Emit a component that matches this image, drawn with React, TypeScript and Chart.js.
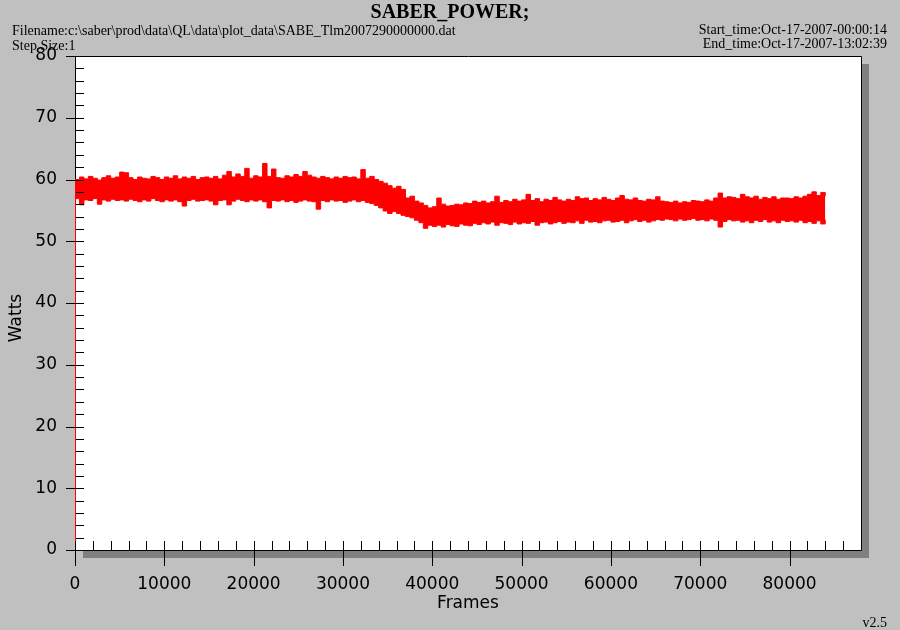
import React, { useEffect, useRef } from "react";
import { Chart, registerables } from "chart.js";

Chart.register(...registerables);

const TITLE = "SABER_POWER;";
const FILENAME = "Filename:c:\\saber\\prod\\data\\QL\\data\\plot_data\\SABE_Tlm2007290000000.dat";
const STEP_SIZE = "Step Size:1";
const START_TIME = "Start_time:Oct-17-2007-00:00:14";
const END_TIME = "End_time:Oct-17-2007-13:02:39";
const VERSION = "v2.5";
const X_TITLE = "Frames";
const Y_TITLE = "Watts";

const X_MIN = 0;
const X_MAX = 88000;
const X_MAJOR = 10000;
const X_MINOR = 2000;
const Y_MIN = 0;
const Y_MAX = 80;
const Y_MAJOR = 10;
const Y_MINOR = 2;

const FRAME_STEP = 500;

// upper envelope of the noisy power trace (W), one value per 500 frames
const upperWatts = [
  60.0, 60.4, 60.1, 60.5, 60.2, 59.9, 60.3, 60.6, 60.2, 60.4, 61.2,
  61.1, 60.3, 60.0, 60.4, 60.2, 60.1, 60.5, 60.3, 60.0, 60.4,
  60.2, 60.6, 60.1, 60.4, 60.2, 60.5, 60.0, 60.3, 60.4, 60.2,
  60.5, 60.1, 60.7, 61.3, 60.4, 60.9, 60.5, 61.8, 60.2, 60.6,
  60.4, 62.6, 60.5, 61.7, 60.3, 60.2, 60.6, 60.4, 60.8, 60.5,
  61.3, 60.7, 60.4, 60.2, 60.5, 60.3, 60.1, 60.4, 60.2, 60.5,
  60.3, 60.4, 60.1, 61.6, 60.2, 60.5, 60.0, 59.7, 59.4, 59.0,
  58.6, 58.9, 58.4, 57.0, 57.3, 56.5, 56.2, 55.8, 55.4, 55.6,
  57.0, 56.0, 55.7, 55.8, 56.0, 55.9, 56.2, 56.1, 56.5, 56.3,
  56.5, 56.2, 56.4, 57.3, 56.3, 56.6, 56.4, 56.8, 56.5, 56.7,
  57.6, 56.6, 56.9, 56.4, 56.8, 56.6, 57.1, 56.7, 56.5, 56.8,
  56.6, 57.2, 56.9, 57.0, 56.6, 56.9, 56.7, 57.1, 56.8, 56.6,
  57.0, 57.4, 56.8, 56.7, 57.0, 56.6, 56.5, 56.8, 56.7, 57.2,
  56.5, 56.4, 56.3, 56.5, 56.2, 56.4, 56.3, 56.6, 56.5, 56.4,
  56.7, 56.5, 57.0, 57.8, 57.0, 57.2, 57.1, 56.9, 57.6, 57.2,
  57.0, 57.3, 56.8, 57.1, 56.9, 57.2, 56.8, 57.0, 57.0, 56.9,
  57.2, 57.0, 57.3, 57.6, 58.0, 57.4, 57.9, 57.3,
];

// lower envelope of the noisy power trace (W)
const lowerWatts = [
  56.9, 55.9, 56.7, 56.6, 56.9, 56.0, 56.7, 56.5, 56.8, 56.6, 56.7,
  56.5, 56.8, 56.6, 56.4, 56.7, 56.5, 56.9, 56.6, 56.4, 56.7,
  56.5, 56.7, 56.4, 55.7, 56.6, 56.8, 56.5, 56.6, 56.7, 56.5,
  55.9, 56.6, 56.7, 55.9, 56.5, 56.8, 56.6, 56.4, 56.7, 56.5,
  56.7, 56.4, 55.4, 56.6, 56.5, 56.7, 56.4, 56.6, 56.3, 56.5,
  56.7, 56.5, 56.4, 55.2, 56.6, 56.4, 56.7, 56.5, 56.6, 56.3,
  56.5, 56.7, 56.4, 56.6, 56.3, 56.1, 55.8, 55.4, 54.9, 54.5,
  54.8, 54.5, 54.2, 54.0, 53.8, 53.4, 53.0, 52.1, 52.6, 52.4,
  52.6, 52.3, 52.7, 52.5, 52.4, 52.8, 52.6, 52.5, 52.9, 52.7,
  53.0, 52.8, 53.1, 52.6, 53.0, 52.9, 52.7, 53.1, 52.8, 53.0,
  52.9, 53.2, 52.6, 53.0, 53.1, 52.8, 53.0, 53.2, 52.9, 53.1,
  53.0, 53.3, 52.9, 53.4, 53.1, 53.2, 53.0, 53.3, 53.4, 53.1,
  53.2, 53.4, 53.0, 53.3, 53.5, 53.2, 53.4, 53.1, 53.3, 53.5,
  53.4, 53.6, 53.5, 53.3, 53.6, 53.4, 53.5, 53.7, 53.4, 53.5,
  53.3, 53.6, 53.4, 52.3, 53.2, 53.5, 53.3, 53.4, 53.1, 53.3,
  53.0, 53.4, 53.2, 53.5, 53.1, 53.3, 53.0, 53.4, 53.2, 53.3,
  53.1, 53.4, 53.0, 53.2, 52.9, 53.3, 52.8, 53.5,
];

// initial jump of the trace from 0 W at frame 0
const startFrames = [0, 0];
const startWatts = [0, 60.0];

// x-axis tick labels
const xTickValues = [0, 10000, 20000, 30000, 40000, 50000, 60000, 70000, 80000];

const frames = upperWatts.map((_, i) => i * FRAME_STEP);

const RED = "#ff0000";
const BG = "#c0c0c0";
const SHADOW = "#808080";
const SANS = "'DejaVu Sans', sans-serif";
const SERIF = "'Liberation Serif', 'Times New Roman', serif";

const isMultiple = (v: number, step: number) => Math.abs(v / step - Math.round(v / step)) < 1e-6;

const framePlugin = {
  id: "idlFrame",
  beforeDraw(chart: any) {
    const { ctx, chartArea } = chart;
    const { left, top, right, bottom } = chartArea;
    ctx.save();
    ctx.fillStyle = BG;
    ctx.fillRect(0, 0, chart.width, chart.height);
    ctx.fillStyle = SHADOW;
    ctx.fillRect(left + 8, top + 8, right - left, bottom - top);
    ctx.fillStyle = "#ffffff";
    ctx.fillRect(left, top, right - left, bottom - top);
    ctx.restore();
  },
  beforeDatasetsDraw(chart: any) {
    const { ctx, chartArea } = chart;
    const { left, top, right, bottom } = chartArea;
    const px = (v: number) => Math.round(v) + 0.5;
    ctx.save();
    ctx.strokeStyle = "#000";
    ctx.lineWidth = 1;
    ctx.beginPath();
    ctx.moveTo(px(left), px(bottom));
    ctx.lineTo(px(left), px(top));
    ctx.lineTo(px(right), px(top));
    ctx.lineTo(px(right), px(bottom));
    ctx.lineTo(px(left), px(bottom));
    ctx.stroke();
    ctx.restore();
  },
  afterDatasetsDraw(chart: any) {
    const { ctx, chartArea, scales } = chart;
    const { left, bottom } = chartArea;
    const xs = scales.x;
    const ys = scales.y;
    const px = (v: number) => Math.round(v) + 0.5;
    ctx.save();
    ctx.strokeStyle = "#000";
    ctx.lineWidth = 1;
    ctx.beginPath();
    for (let v = Y_MIN; v <= Y_MAX; v += Y_MINOR) {
      const y = px(ys.getPixelForValue(v));
      const major = isMultiple(v, Y_MAJOR);
      ctx.moveTo(major ? left - 9 : left + 1, y);
      ctx.lineTo(left + 9, y);
    }
    for (let v = X_MIN; v <= X_MAX; v += X_MINOR) {
      const x = px(xs.getPixelForValue(v));
      const major = isMultiple(v, X_MAJOR);
      ctx.moveTo(x, bottom - 9);
      ctx.lineTo(x, major ? bottom + 16 : bottom);
    }
    ctx.stroke();
    ctx.restore();
  },
  afterDraw(chart: any) {
    const { ctx } = chart;
    ctx.save();
    ctx.fillStyle = "#000";
    ctx.textBaseline = "alphabetic";
    ctx.font = `bold 20px ${SERIF}`;
    ctx.textAlign = "center";
    ctx.fillText(TITLE, 450, 18);
    ctx.font = `14px ${SERIF}`;
    ctx.textAlign = "left";
    ctx.fillText(FILENAME, 12, 35);
    ctx.fillText(STEP_SIZE, 12, 50);
    ctx.textAlign = "right";
    ctx.fillText(START_TIME, 887, 34);
    ctx.fillText(END_TIME, 887, 48);
    ctx.fillText(VERSION, 887, 627);
    ctx.font = `17px ${SANS}`;
    ctx.textAlign = "center";
    ctx.textBaseline = "middle";
    ctx.fillText(X_TITLE, 468, 604);
    ctx.translate(17, 318);
    ctx.rotate(-Math.PI / 2);
    ctx.fillText(Y_TITLE, 0, 0);
    ctx.restore();
  },
};

export default function App() {
  const ref = useRef<HTMLCanvasElement | null>(null);
  useEffect(() => {
    if (!ref.current) return;
    const chart = new Chart(ref.current, {
      type: "line",
      data: {
        datasets: [
          {
            label: "upper",
            data: frames.map((f, i) => ({ x: f, y: upperWatts[i] })),
            borderColor: RED,
            backgroundColor: RED,
            borderWidth: 1,
            pointRadius: 0,
            stepped: true,
            fill: false,
          },
          {
            label: "lower",
            data: frames.map((f, i) => ({ x: f, y: lowerWatts[i] })),
            borderColor: RED,
            backgroundColor: RED,
            borderWidth: 1,
            pointRadius: 0,
            stepped: true,
            fill: "-1",
          },
          {
            label: "start",
            data: startFrames.map((f, i) => ({ x: f, y: startWatts[i] })),
            borderColor: RED,
            borderWidth: 2,
            pointRadius: 0,
            fill: false,
          },
        ],
      },
      options: {
        responsive: false,
        animation: false,
        events: [],
        layout: { padding: { left: 0, top: 56, right: 39, bottom: 0 } },
        plugins: { legend: { display: false }, tooltip: { enabled: false }, title: { display: false } },
        scales: {
          x: {
            type: "linear",
            min: X_MIN,
            max: X_MAX,
            border: { display: false },
            grid: { display: false, drawTicks: false },
            afterFit: (s: any) => {
              s.height = 80;
            },
            afterBuildTicks: (s: any) => {
              s.ticks = xTickValues.map((value) => ({ value }));
            },
            ticks: {
              padding: 24,
              color: "#000",
              maxRotation: 0,
              minRotation: 0,
              autoSkip: false,
              font: { family: SANS, size: 17 },
              callback: (_v: any, index: number) => String(xTickValues[index]),
            },
          },
          y: {
            type: "linear",
            min: Y_MIN,
            max: Y_MAX,
            border: { display: false },
            grid: { display: false, drawTicks: false },
            afterFit: (s: any) => {
              s.width = 75;
            },
            ticks: {
              stepSize: Y_MAJOR,
              padding: 18,
              color: "#000",
              font: { family: SANS, size: 17 },
              callback: (v: any) => String(Math.round(Number(v))),
            },
          },
        },
      },
      plugins: [framePlugin],
    });
    return () => chart.destroy();
  }, []);
  return (
    <div style={{ position: "absolute", left: 0, top: 0, width: 900, height: 630, background: BG }}>
      <canvas ref={ref} width={900} height={630} style={{ width: 900, height: 630, display: "block" }} />
    </div>
  );
}
